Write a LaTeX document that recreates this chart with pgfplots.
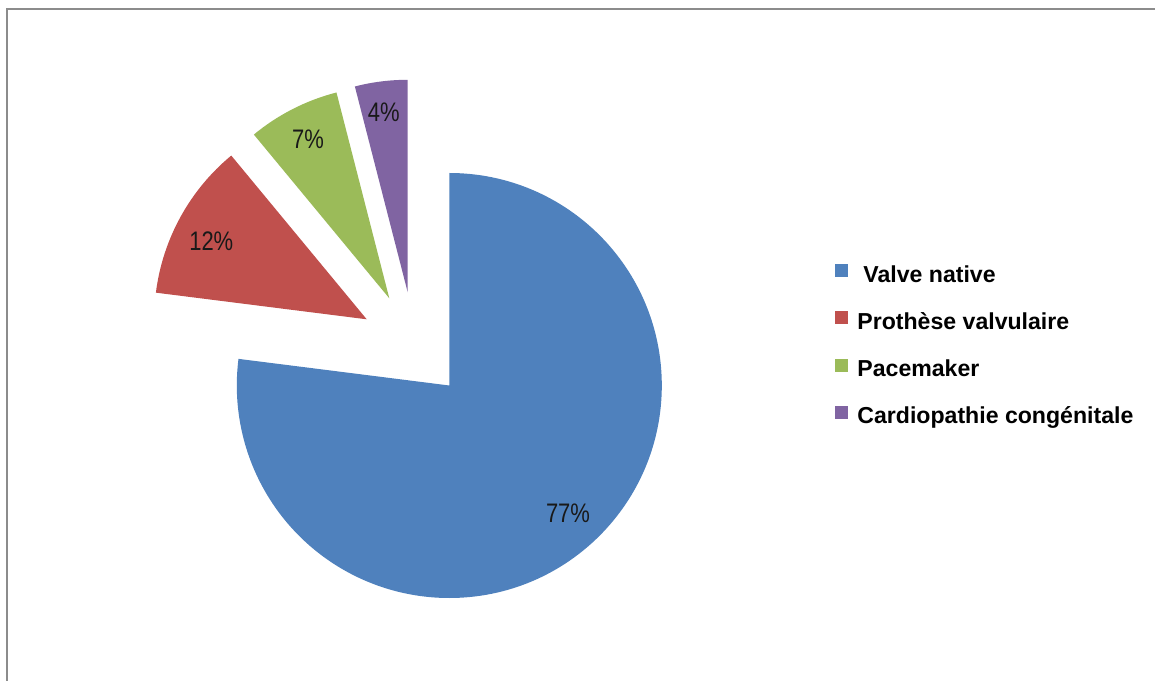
\documentclass[border=0pt]{standalone}
\usepackage{fontspec}
\usepackage{pgfplots}
\usepackage{pgfplotstable}
\pgfplotsset{compat=1.18}
\setmainfont{Liberation Sans}
\newfontfamily\narrowfont{Liberation Sans}[FakeStretch=0.82]

\definecolor{slice0}{HTML}{4F81BD}
\definecolor{slice1}{HTML}{C0504D}
\definecolor{slice2}{HTML}{9BBB59}
\definecolor{slice3}{HTML}{8064A2}
\definecolor{frame}{HTML}{8C8C8C}

% share in %, explode offset (px), label position (px)
\pgfplotstableread{
name value dx dy lx ly
Valve 77 0 0 568 167
Prothese 12 -82.6 66.2 211.3 438.3
Pacemaker 7 -60 87.2 308 541
Cardio 4 -41.6 93.2 383.8 568
}\piedata

\def\labelfont{\narrowfont\fontsize{13.4}{15}\selectfont}

\begin{document}
\begin{tikzpicture}
\begin{axis}[
    x=0.5pt, y=0.5pt,
    xmin=0, xmax=1155, ymin=0, ymax=680,
    hide axis,
    legend image code/.code={\fill[#1, draw=none] (0pt,-0.6pt) rectangle (6.5pt,5.9pt);},
    legend cell align=left,
    legend style={
        at={(axis cs:835,416.3)}, anchor=north west,
        draw=none, fill=none, inner sep=0pt,
        row sep=11.6pt, column sep=4.5pt,
        nodes={inner sep=0pt, text height=9pt, text depth=3pt,
               font=\bfseries\fontsize{11.55}{14}\selectfont},
    },
]
\draw[frame, line width=1pt] (axis cs:6.5,-5) -- (axis cs:6.5,670.7) -- (axis cs:1160,670.7);

\def\startang{90}
\pgfplotsforeachungrouped \i in {0,...,3}{
    \pgfplotstablegetelem{\i}{value}\of\piedata \let\v\pgfplotsretval
    \pgfplotstablegetelem{\i}{dx}\of\piedata \let\dx\pgfplotsretval
    \pgfplotstablegetelem{\i}{dy}\of\piedata \let\dy\pgfplotsretval
    \pgfplotstablegetelem{\i}{lx}\of\piedata \let\lx\pgfplotsretval
    \pgfplotstablegetelem{\i}{ly}\of\piedata \let\ly\pgfplotsretval
    \pgfmathsetmacro\endang{\startang-3.6*\v}
    \pgfmathsetmacro\px{449.3+\dx}
    \pgfmathsetmacro\py{294.5+\dy}
    \edef\temp{%
        \noexpand\fill[slice\i] (axis cs:\px,\py) -- ++(\startang:106.25pt)
            arc[start angle=\startang, end angle=\endang, radius=106.25pt] -- cycle;
        \noexpand\node[font=\noexpand\labelfont, text=black!90] at (axis cs:\lx,\ly) {\v\noexpand\%};
    }
    \temp
    \let\startang\endang
}

\addlegendimage{fill=slice0}
\addlegendentry{\hspace{3pt}Valve native}
\addlegendimage{fill=slice1}
\addlegendentry{Prothèse valvulaire}
\addlegendimage{fill=slice2}
\addlegendentry{Pacemaker}
\addlegendimage{fill=slice3}
\addlegendentry{Cardiopathie congénitale}
\end{axis}
\pgfresetboundingbox
\useasboundingbox (0,0) rectangle (577.5pt,340pt);
\end{tikzpicture}
\end{document}
